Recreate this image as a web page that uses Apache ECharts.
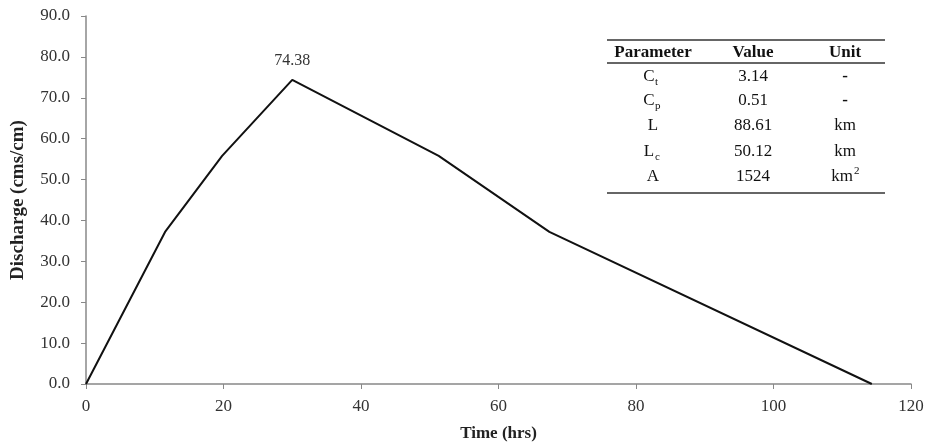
<!DOCTYPE html>
<html><head><meta charset="utf-8">
<script src="https://cdn.jsdelivr.net/npm/echarts@6/dist/echarts.min.js"></script>
<style>html,body{margin:0;padding:0;background:#fff}#c{width:931px;height:444px}</style>
</head><body><div id="c"></div>
<script>
var timeHrs = [0, 11.5, 19.8, 30.0, 51.3, 67.4, 114.3];
var discharge = [0, 37.19, 55.79, 74.38, 55.79, 37.19, 0];
var peakIndex = 3;
var xTicks = [0, 20, 40, 60, 80, 100, 120];
var yTicks = [0, 10, 20, 30, 40, 50, 60, 70, 80, 90];

var tableHeader = ['Parameter', 'Value', 'Unit'];
var paramMain = ['C', 'C', 'L', 'L', 'A'];
var paramSub = ['t', 'p', '', 'c', ''];
var paramValues = ['3.14', '0.51', '88.61', '50.12', '1524'];
var paramUnits = ['-', '-', 'km', 'km', 'km'];
var unitSup = ['', '', '', '', '2'];

var FONT = '"Liberation Serif", "Times New Roman", serif';
var chart = echarts.init(document.getElementById('c'));

var data = timeHrs.map(function (t, i) {
  var d = { value: [t, discharge[i]] };
  if (i === peakIndex) {
    d.label = { show: true, position: 'top', distance: 11, formatter: String(discharge[i]),
      fontFamily: FONT, fontSize: 16, color: '#333' };
  }
  return d;
});

var colX = [653, 753, 845];
var rowY = [77, 101, 126, 152, 177];
var g = [];
var lineStyle = { stroke: '#333', lineWidth: 1.3 };
g.push({ type: 'line', shape: { x1: 607, y1: 40, x2: 885, y2: 40 }, style: lineStyle });
g.push({ type: 'line', shape: { x1: 607, y1: 63, x2: 885, y2: 63 }, style: lineStyle });
g.push({ type: 'line', shape: { x1: 607, y1: 193, x2: 885, y2: 193 }, style: lineStyle });
tableHeader.forEach(function (h, j) {
  g.push({ type: 'text', x: colX[j], y: 53, style: { text: h, font: 'bold 17px ' + FONT, fill: '#111', align: 'center', verticalAlign: 'middle' } });
});
paramMain.forEach(function (p, i) {
  var dx = paramSub[i] ? -4 : 0;
  g.push({ type: 'text', x: colX[0] + dx, y: rowY[i], style: { text: p, font: '17px ' + FONT, fill: '#111', align: 'center', verticalAlign: 'middle' } });
  if (paramSub[i]) {
    g.push({ type: 'text', x: colX[0] + dx + 6, y: rowY[i] + 5, style: { text: paramSub[i], font: '11px ' + FONT, fill: '#111', align: 'left', verticalAlign: 'middle' } });
  }
  g.push({ type: 'text', x: colX[1], y: rowY[i], style: { text: paramValues[i], font: '17px ' + FONT, fill: '#111', align: 'center', verticalAlign: 'middle' } });
  var ux = unitSup[i] ? -3 : 0;
  g.push({ type: 'text', x: colX[2] + ux, y: rowY[i], style: { text: paramUnits[i], font: (paramUnits[i] === '-' ? 'bold ' : '') + '17px ' + FONT, fill: '#111', align: 'center', verticalAlign: 'middle' } });
  if (unitSup[i]) {
    g.push({ type: 'text', x: colX[2] + ux + 12, y: rowY[i] - 6, style: { text: unitSup[i], font: '11px ' + FONT, fill: '#111', align: 'left', verticalAlign: 'middle' } });
  }
});

chart.setOption({
  animation: false,
  backgroundColor: '#fff',
  grid: { left: 86, right: 20, top: 16, bottom: 60, containLabel: false, outerBoundsMode: 'none' },
  xAxis: {
    type: 'value', min: xTicks[0], max: xTicks[xTicks.length - 1], interval: 20,
    name: 'Time (hrs)', nameLocation: 'middle', nameGap: 41,
    nameTextStyle: { fontFamily: FONT, fontWeight: 'bold', fontSize: 17, color: '#222' },
    axisLine: { lineStyle: { color: '#888', width: 1.5 } },
    axisTick: { show: true, length: 5, lineStyle: { color: '#888' } },
    axisLabel: { fontFamily: FONT, fontSize: 17, color: '#333', margin: 14 },
    splitLine: { show: false }
  },
  yAxis: {
    type: 'value', min: yTicks[0], max: yTicks[yTicks.length - 1], interval: 10,
    name: 'Discharge (cms/cm)', nameLocation: 'middle', nameGap: 58,
    nameTextStyle: { fontFamily: FONT, fontWeight: 'bold', fontSize: 19, color: '#222' },
    axisLine: { show: true, lineStyle: { color: '#888', width: 1.5 } },
    axisTick: { show: true, length: 5, lineStyle: { color: '#888' } },
    axisLabel: { fontFamily: FONT, fontSize: 17, color: '#333', margin: 16,
      formatter: function (v) { return v.toFixed(1); } },
    splitLine: { show: false }
  },
  series: [{
    type: 'line', data: data, showSymbol: true, symbol: 'circle', symbolSize: 0,
    lineStyle: { color: '#111', width: 2 },
    label: { show: false }
  }],
  graphic: g
});
</script></body></html>
